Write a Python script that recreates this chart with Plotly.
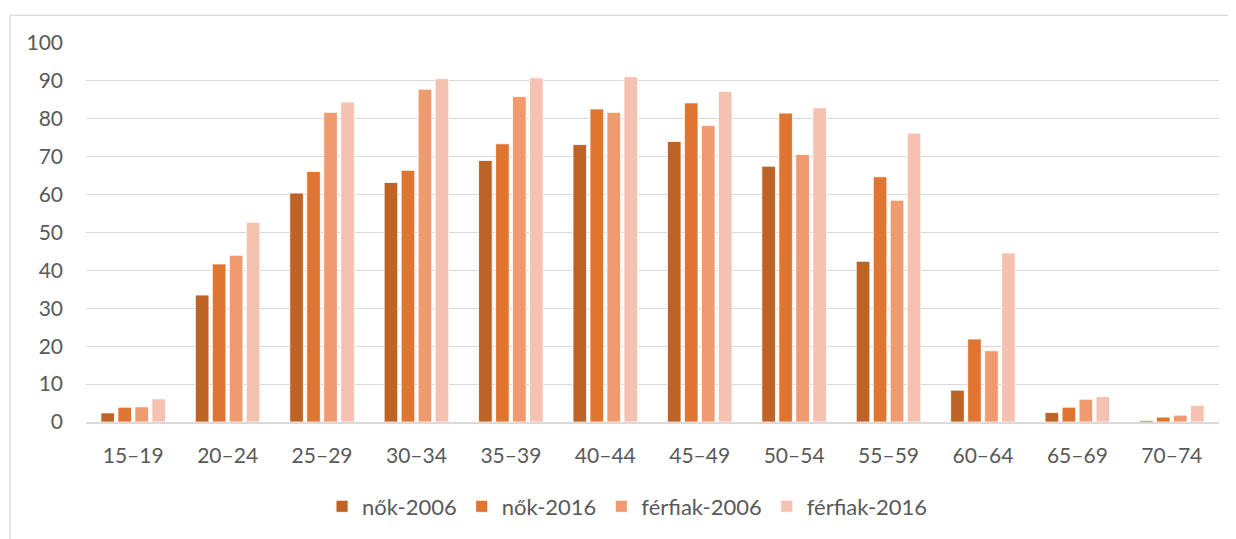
import plotly.graph_objects as go

categories = ["15–19", "20–24", "25–29", "30–34", "35–39", "40–44",
              "45–49", "50–54", "55–59", "60–64", "65–69", "70–74"]

nok_2006 = [2.4, 33.5, 60.4, 63.2, 69.0, 73.2, 74.0, 67.5, 42.4, 8.4, 2.5, 0.4]
nok_2016 = [3.9, 41.7, 66.1, 66.4, 73.4, 82.6, 84.2, 81.5, 64.7, 21.9, 3.9, 1.3]
ferfiak_2006 = [4.0, 44.0, 81.7, 87.8, 85.9, 81.7, 78.2, 70.6, 58.5, 18.8, 6.0, 1.8]
ferfiak_2016 = [6.1, 52.7, 84.4, 90.6, 90.8, 91.1, 87.2, 82.9, 76.2, 44.6, 6.7, 4.4]

series_names = ["nők-2006", "nők-2016", "férfiak-2006", "férfiak-2016"]
series_values = [nok_2006, nok_2016, ferfiak_2006, ferfiak_2016]
series_colors = ["#BD6325", "#DF7530", "#EF9A6F", "#F5C2B1"]

y_ticks = [0, 10, 20, 30, 40, 50, 60, 70, 80, 90, 100]

FONT = "Lato, 'Open Sans', sans-serif"
TEXT = "#595959"
GRID = "#D9D9D9"

fig = go.Figure()
for name, vals, col in zip(series_names, series_values, series_colors):
    fig.add_trace(go.Bar(
        x=categories, y=vals, name=name,
        marker=dict(color=col, line=dict(color="rgba(255,255,255,0.8)", width=1)),
    ))

# page body adds an 8px offset, so the figure is 8px smaller and shifted
fig.update_layout(
    width=1228, height=531,
    margin=dict(l=78, r=17, t=35, b=115),
    paper_bgcolor="white", plot_bgcolor="white",
    barmode="group", bargap=0.28, bargroupgap=0.2,
    font=dict(family=FONT, size=21, color=TEXT),
    showlegend=True,
    legend=dict(orientation="h", x=0.478, xanchor="center", y=-0.223, yanchor="middle",
                font=dict(family=FONT, size=22, color=TEXT),
                itemwidth=30, tracegroupgap=0, bgcolor="rgba(0,0,0,0)"),
    xaxis=dict(showgrid=False, showline=True, linecolor=GRID, linewidth=1.5,
               ticks="", ticklabelstandoff=14,
               tickfont=dict(family=FONT, size=21, color=TEXT)),
    yaxis=dict(range=[0, 100], tickvals=y_ticks, showgrid=True, gridcolor=GRID,
               gridwidth=1.3, zeroline=False, showline=False, ticks="",
               ticklabelstandoff=22,
               tickfont=dict(family=FONT, size=21, color=TEXT)),
    shapes=[
        dict(type="line", xref="paper", yref="paper", x0=-0.0671, x1=1.02,
             y0=1.0727, y1=1.0727, line=dict(color=GRID, width=1.3)),
        dict(type="line", xref="paper", yref="paper", x0=-0.0671, x1=-0.0671,
             y0=1.0727, y1=-0.31, line=dict(color=GRID, width=1.3)),
    ],
)

fig.write_html("out.html")
